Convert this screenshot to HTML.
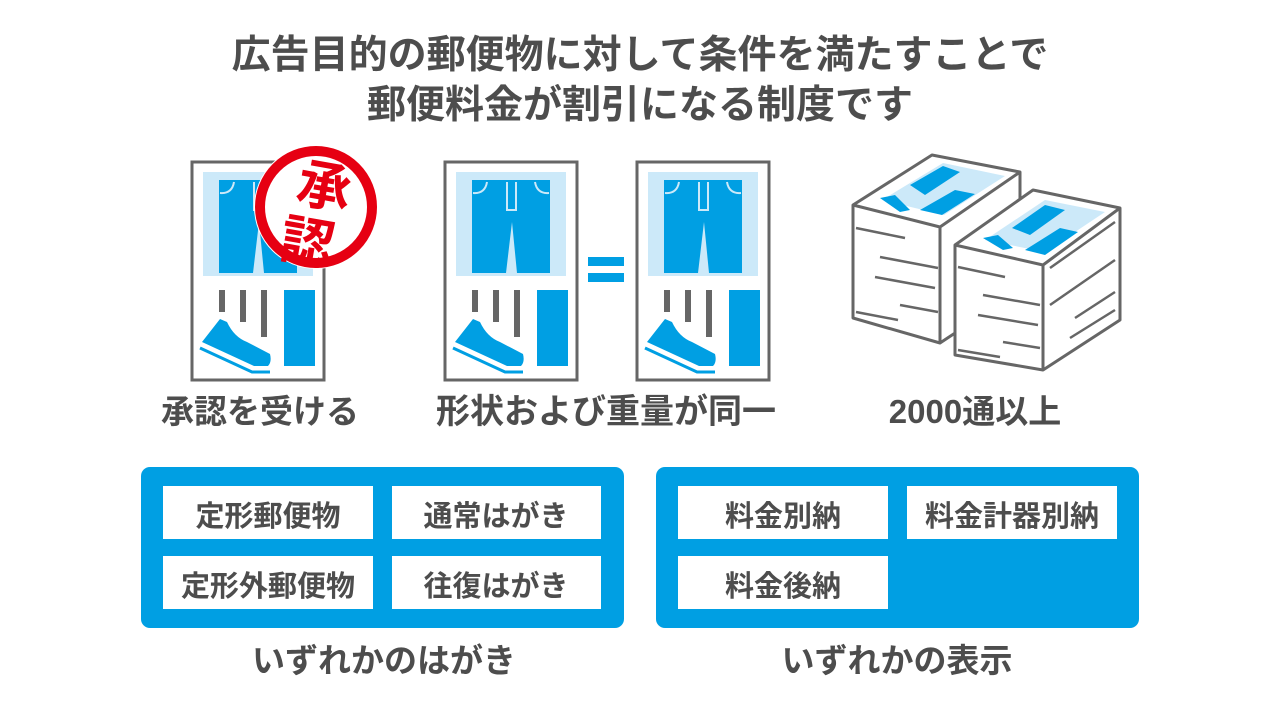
<!DOCTYPE html>
<html><head><meta charset="utf-8"><style>
html,body{margin:0;padding:0;background:#fff;}
svg{display:block;}
text{font-family:"Liberation Sans","Noto Sans CJK JP",sans-serif;font-weight:bold;fill:#4d4d4d;}
</style></head><body>
<svg width="1280" height="720" viewBox="0 0 1280 720" xmlns="http://www.w3.org/2000/svg">
<defs>
<g id="card">
  <rect x="0" y="0" width="132" height="218" fill="#fff" stroke="#666" stroke-width="3"/>
  <rect x="11" y="10" width="110" height="104" fill="#cce9f9"/>
  <path d="M27 18 H105 V111 H72 L67 60 L61 111 H27 Z" fill="#009fe3"/>
  <path d="M28 31 Q40 32 42 20 M104 31 Q92 32 90 20 M62 20 V48 H71 V20" fill="none" stroke="#cce9f9" stroke-width="2"/>
  <rect x="27" y="128" width="6" height="22" fill="#666"/>
  <rect x="48" y="128" width="6" height="32" fill="#666"/>
  <rect x="69" y="128" width="6" height="47" fill="#666"/>
  <rect x="92" y="128" width="31" height="76" fill="#009fe3"/>
  <path d="M10 180 L28 157 L35 160 Q42 175 55 180 L78 192 Q80 200 76 204 L62 204 Z" fill="#009fe3"/>
  <path d="M8 186 L60 210 L78 210" fill="none" stroke="#009fe3" stroke-width="3"/>
</g>
</defs>
<text x="640" y="68" font-size="39" text-anchor="middle">広告目的の郵便物に対して条件を満たすことで</text>
<text x="640" y="118" font-size="39" text-anchor="middle">郵便料金が割引になる制度です</text>

<use href="#card" x="192" y="162"/>
<circle cx="316" cy="207" r="62" fill="#fff"/>
<circle cx="316" cy="207" r="56" fill="#fff" stroke="#e60012" stroke-width="10"/>
<text x="322" y="205" font-size="54" text-anchor="middle" style="fill:#e60012" transform="rotate(10 322 200)">承</text>
<text x="308" y="262" font-size="54" text-anchor="middle" style="fill:#e60012" transform="rotate(10 310 240)">認</text>

<use href="#card" x="445" y="162"/>
<use href="#card" x="637" y="162"/>
<rect x="588" y="257" width="36" height="9" fill="#009fe3"/>
<rect x="588" y="273" width="36" height="9" fill="#009fe3"/>

<g stroke="#666" stroke-width="3" fill="#fff" stroke-linejoin="round">
  <polygon points="853,205 932,155 1020,172 1020,290 940,343 853,318"/>
  <polyline points="853,205 940,227 1020,172" fill="none"/>
  <line x1="940" y1="227" x2="940" y2="343"/>
  <polygon points="882,200 943,163 1005,176 944,215" fill="#cce9f9" stroke="none"/>
  <polygon points="910,185 943,166 960,172 925,195" fill="#009fe3" stroke="none"/>
  <polygon points="920,210 955,190 975,194 942,215" fill="#009fe3" stroke="none"/>
  <polygon points="880,198 895,195 910,210 900,212" fill="#009fe3" stroke="none"/>
  <g stroke-width="2.5">
    <line x1="856" y1="228" x2="905" y2="238"/><line x1="880" y1="257" x2="938" y2="268"/>
    <line x1="875" y1="277" x2="935" y2="288"/><line x1="900" y1="305" x2="938" y2="312"/>
    <line x1="856" y1="312" x2="898" y2="320"/>
  </g>
  <polygon points="955,245 1033,190 1120,208 1120,320 1043,370 955,355"/>
  <polyline points="955,245 1043,265 1120,208" fill="none"/>
  <line x1="1043" y1="265" x2="1043" y2="370"/>
  <polygon points="985,240 1045,200 1105,212 1045,252" fill="#cce9f9" stroke="none"/>
  <polygon points="1012,228 1045,205 1065,210 1030,235" fill="#009fe3" stroke="none"/>
  <polygon points="1025,250 1060,228 1078,232 1045,255" fill="#009fe3" stroke="none"/>
  <polygon points="983,238 998,235 1013,248 1003,250" fill="#009fe3" stroke="none"/>
  <g stroke-width="2.5">
    <line x1="958" y1="267" x2="1005" y2="277"/><line x1="983" y1="295" x2="1040" y2="305"/>
    <line x1="978" y1="315" x2="1038" y2="325"/><line x1="1003" y1="342" x2="1040" y2="348"/>
    <line x1="958" y1="350" x2="1000" y2="357"/>
    <line x1="1050" y1="268" x2="1115" y2="222"/><line x1="1050" y1="305" x2="1115" y2="260"/>
    <line x1="1075" y1="318" x2="1115" y2="292"/><line x1="1070" y1="338" x2="1115" y2="310"/>
  </g>
</g>

<text x="260" y="423" font-size="33" text-anchor="middle">承認を受ける</text>
<text x="606" y="423" font-size="34" text-anchor="middle">形状および重量が同一</text>
<text x="975" y="423" font-size="33" text-anchor="middle">2000通以上</text>

<rect x="141" y="467" width="483" height="161" rx="9" fill="#009fe3"/>
<rect x="163" y="486" width="210" height="53" fill="#fff"/>
<rect x="392" y="486" width="209" height="53" fill="#fff"/>
<rect x="163" y="556" width="210" height="53" fill="#fff"/>
<rect x="392" y="556" width="209" height="53" fill="#fff"/>
<text x="268" y="526" font-size="29" text-anchor="middle">定形郵便物</text>
<text x="496" y="526" font-size="29" text-anchor="middle">通常はがき</text>
<text x="268" y="596" font-size="29" text-anchor="middle">定形外郵便物</text>
<text x="496" y="596" font-size="29" text-anchor="middle">往復はがき</text>

<rect x="656" y="467" width="483" height="161" rx="9" fill="#009fe3"/>
<rect x="678" y="486" width="210" height="53" fill="#fff"/>
<rect x="907" y="486" width="210" height="53" fill="#fff"/>
<rect x="678" y="556" width="210" height="53" fill="#fff"/>
<text x="783" y="526" font-size="29" text-anchor="middle">料金別納</text>
<text x="1012" y="526" font-size="29" text-anchor="middle">料金計器別納</text>
<text x="783" y="596" font-size="29" text-anchor="middle">料金後納</text>

<text x="384" y="672" font-size="33" text-anchor="middle">いずれかのはがき</text>
<text x="897" y="672" font-size="33" text-anchor="middle">いずれかの表示</text>
</svg>
</body></html>
